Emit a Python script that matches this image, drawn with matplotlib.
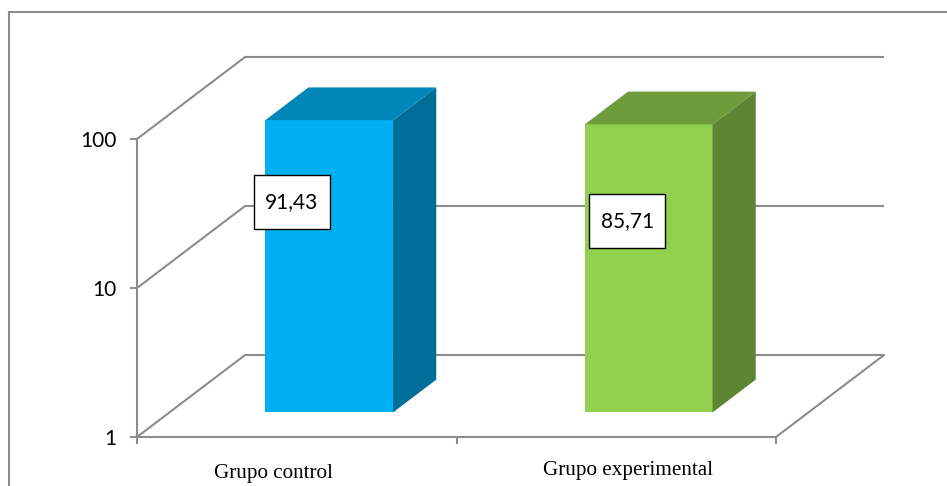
import numpy as np
import matplotlib
matplotlib.use("Agg")
import matplotlib.pyplot as plt
from matplotlib.patches import Polygon, Rectangle
from matplotlib.path import Path

# ---- data ----
categories = ["Grupo control", "Grupo experimental"]
values = [91.43, 85.71]
value_labels = ["91,43", "85,71"]
y_ticks = [1, 10, 100]
y_tick_labels = ["1", "10", "100"]

# ---- style ----
front_colors = ["#00B0F0", "#92D050"]
side_colors = ["#006E98", "#5E8532"]
top_colors = ["#0086B8", "#6E9C3C"]
grid_color = "#8C8C8C"

W, H = 947, 486
fig = plt.figure(figsize=(W / 100, H / 100), dpi=100)

# front plane of the 3-D box
ax = fig.add_axes([137 / W, 49 / H, 639 / W, 298 / H])
ax.set_yscale("log")
ax.set_xlim(0, len(categories))
ax.set_ylim(1, 100)

# oblique depth offset: x in category units, y in decades
DX = 0.338
DY = 0.55
F = 10 ** DY

# bar occupies the middle of the depth
d0, d1 = 0.30, 0.70
f0, f1 = 10 ** (d0 * DY), 10 ** (d1 * DY)
bar_w = 0.4

# back wall gridlines and side wall diagonals
for t in y_ticks:
    ax.plot([DX, len(categories) + DX], [t * F, t * F], color=grid_color,
            lw=1.5, clip_on=False, zorder=1, solid_capstyle="butt")
    ax.plot([0, DX], [t, t * F], color=grid_color, lw=1.5,
            clip_on=False, zorder=1)
# right edge of the floor
ax.plot([len(categories), len(categories) + DX], [1, F], color=grid_color,
        lw=1.5, clip_on=False, zorder=1)

# bars
centers = np.arange(len(categories)) + 0.5
for c, v, fc, sc, tc in zip(centers, values, front_colors, side_colors, top_colors):
    xl = c - bar_w / 2 + d0 * DX
    xr = c + bar_w / 2 + d0 * DX
    ddx = (d1 - d0) * DX
    ax.bar(xl, v * f0 - f0, width=bar_w, bottom=f0, align="edge",
           color=fc, clip_on=False, zorder=3, linewidth=0)
    side = Polygon([(xr, f0), (xr + ddx, f1), (xr + ddx, v * f1), (xr, v * f0)],
                   closed=True, facecolor=sc, edgecolor="none",
                   clip_on=False, zorder=3)
    top = Polygon([(xl, v * f0), (xr, v * f0), (xr + ddx, v * f1), (xl + ddx, v * f1)],
                  closed=True, facecolor=tc, edgecolor="none",
                  clip_on=False, zorder=3)
    ax.add_patch(side)
    ax.add_patch(top)


def label_box(x0, y0, width, height, mutation_size):
    """Rectangular label frame with more vertical than horizontal padding."""
    px = 0.55 * mutation_size
    py = 0.80 * mutation_size
    return Path([(x0 - px, y0 - py), (x0 + width + px, y0 - py),
                 (x0 + width + px, y0 + height + py), (x0 - px, y0 + height + py),
                 (x0 - px, y0 - py)], closed=True)


# value labels
label_x = [0.485, 1.534]
label_y = [37.8, 28.2]
for x, y, s in zip(label_x, label_y, value_labels):
    ax.text(x, y, s, ha="center", va="center", fontsize=15,
            family="Lato", color="black", zorder=6,
            bbox=dict(boxstyle=label_box, facecolor="white",
                      edgecolor="black", linewidth=1.0))

# category labels
cat_x = [0.426, 1.537]
cat_y = [-0.124, -0.111]
for x, y, s in zip(cat_x, cat_y, categories):
    ax.text(x, y, s, transform=ax.get_xaxis_transform(), ha="center",
            va="center", fontsize=15.2, family="Liberation Serif",
            color="black")

# axes styling
for side_name in ["top", "right"]:
    ax.spines[side_name].set_visible(False)
for side_name in ["left", "bottom"]:
    ax.spines[side_name].set_color(grid_color)
    ax.spines[side_name].set_linewidth(1.5)
ax.patch.set_alpha(0)
ax.set_yticks(y_ticks)
ax.set_yticklabels(y_tick_labels)
ax.yaxis.set_minor_locator(matplotlib.ticker.NullLocator())
ax.set_xticks(np.arange(len(categories) + 1))
ax.set_xticklabels([])
ax.tick_params(axis="y", length=5, width=1.5, color=grid_color, pad=10,
               labelsize=15)
ax.tick_params(axis="x", length=5, width=1.5, color=grid_color)
for lbl in ax.get_yticklabels():
    lbl.set_family("Lato")

# chart frame
fig.patches.append(Rectangle((9 / W, -0.1), 1.2, (H - 12) / H + 0.1,
                             transform=fig.transFigure, fill=False,
                             edgecolor=grid_color, linewidth=1.5))

fig.savefig("out.png", dpi=100)
